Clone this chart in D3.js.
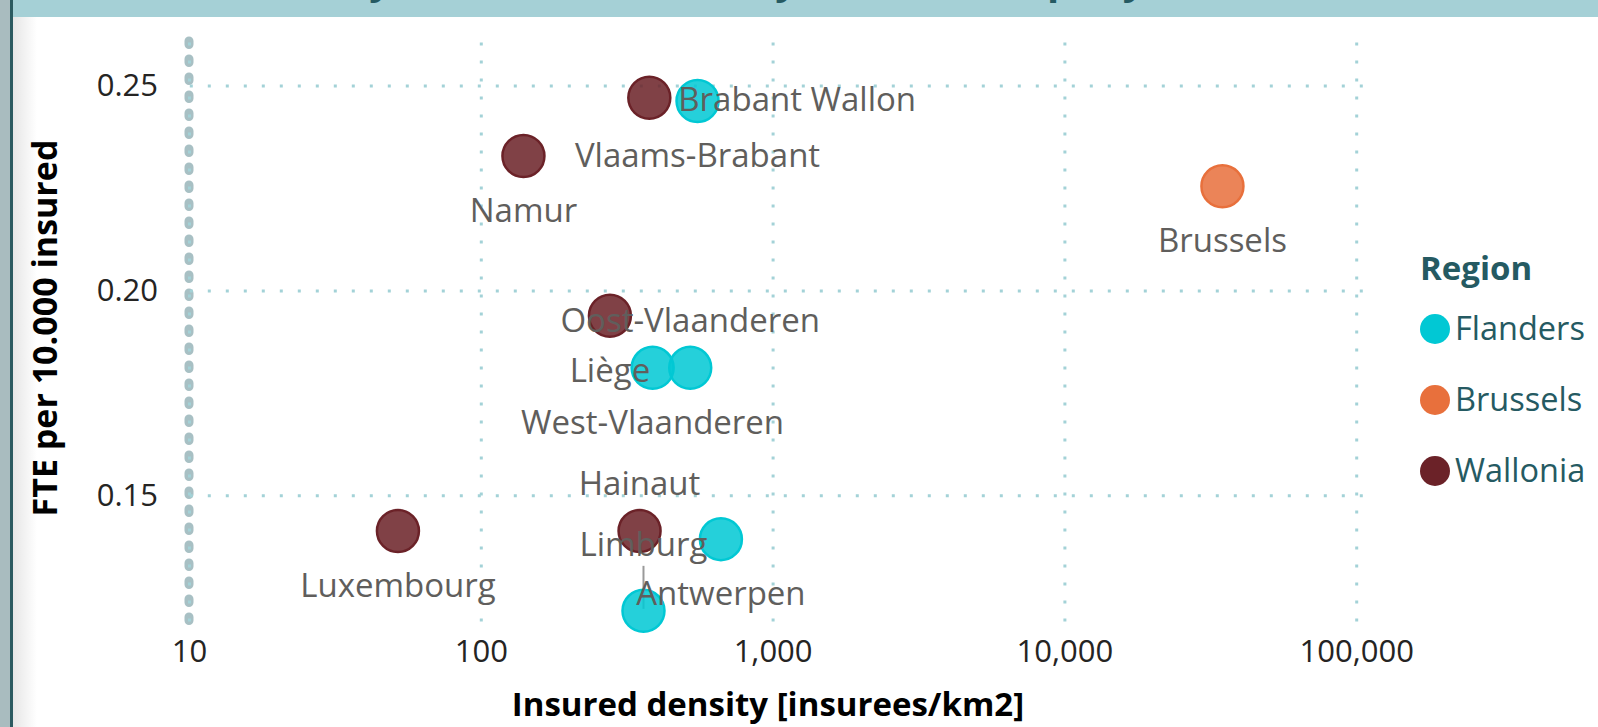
<!DOCTYPE html>
<html>
<head>
<meta charset="utf-8">
<script src="https://cdn.jsdelivr.net/npm/d3@7"></script>
<style>
  body { margin: 0; background: #fff; overflow: hidden; }
  svg { display: block; font-family: "Segoe UI", "Open Sans", sans-serif; }
</style>
</head>
<body>
<div id="chart"></div>
<script>
// data
const provinces = ["Brabant Wallon", "Namur", "Liège", "Luxembourg", "Hainaut",
                   "Vlaams-Brabant", "Oost-Vlaanderen", "West-Vlaanderen", "Antwerpen", "Limburg",
                   "Brussels"];
const regionOf = ["Wallonia", "Wallonia", "Wallonia", "Wallonia", "Wallonia",
                  "Flanders", "Flanders", "Flanders", "Flanders", "Flanders",
                  "Brussels"];
const density = [378, 140, 277, 52, 350, 553, 522, 388, 665, 361, 34800];      // insurees/km2
const ftePer10k = [0.2470, 0.2328, 0.1938, 0.1413, 0.1413, 0.2462, 0.1811, 0.1811, 0.1393, 0.1218, 0.2254];
const labelPos = ["right", "below", "below", "below", "above", "below", "above", "below", "below", "leader", "below"];

const regions = ["Flanders", "Brussels", "Wallonia"];
const regionColors = ["#01c8d4", "#e8703c", "#6b2228"];
const xTicks = [10, 100, 1000, 10000, 100000];
const yTicks = [0.15, 0.20, 0.25];

const width = 1598, height = 727;
const plot = {left: 189, right: 1370, top: 38.8, bottom: 621.5};

const svg = d3.select("#chart").append("svg")
    .attr("width", width)
    .attr("height", height);

// frame bits: left border + header band
const defs = svg.append("defs");
const grad = defs.append("linearGradient").attr("id", "shade");
grad.append("stop").attr("offset", "0%").attr("stop-color", "#e6e6e6");
grad.append("stop").attr("offset", "100%").attr("stop-color", "#ffffff");

svg.append("rect").attr("x", 13).attr("y", 0).attr("width", 24).attr("height", height).attr("fill", "url(#shade)");
svg.append("rect").attr("x", 0).attr("y", 0).attr("width", 10).attr("height", height).attr("fill", "#a9bcbf");
svg.append("rect").attr("x", 10).attr("y", 0).attr("width", 3).attr("height", height).attr("fill", "#2b5a60");
svg.append("rect").attr("x", 13).attr("y", 0).attr("width", width - 13).attr("height", 17).attr("fill", "#a5d0d6");
// title sits above the visible area, only its descenders peek out
svg.append("text")
    .attr("x", 109).attr("y", -6)
    .attr("font-size", 40).attr("font-weight", "bold").attr("fill", "#255a62")
    .text("Staff intensity and insured density in each company");

const x = d3.scaleLog().domain([10, 10 ** (1 + (plot.right - plot.left) / 291.8)]).range([plot.left, plot.right]);
const y = d3.scaleLinear().domain([0.1192, 0.2614]).range([plot.bottom, plot.top]);

// y axis line (thick dotted)
svg.append("line")
    .attr("x1", x(10)).attr("x2", x(10))
    .attr("y1", 41).attr("y2", plot.bottom)
    .attr("stroke", "#a8c0c4").attr("stroke-width", 9)
    .attr("stroke-linecap", "round").attr("stroke-dasharray", "3.5 14.5");

// gridlines
const gridY = svg.append("g")
    .attr("transform", `translate(${plot.left},0)`)
    .call(d3.axisLeft(y).tickValues(yTicks).tickSize(-(plot.right - plot.left - 4)).tickFormat(""));
const gridX = svg.append("g")
    .attr("transform", `translate(0,${plot.bottom})`)
    .call(d3.axisBottom(x).tickValues(xTicks).tickSize(-(plot.bottom - 41)).tickFormat(""));
svg.selectAll(".domain").remove();
[gridX, gridY].forEach(g => g.selectAll("line")
    .attr("stroke", "#a3d2d7").attr("stroke-width", 3).attr("stroke-dasharray", "3 15"));
gridY.selectAll("line").attr("transform", "translate(0.8,0)");

// tick labels
const yAxis = svg.append("g")
    .attr("transform", `translate(158,0)`)
    .call(d3.axisLeft(y).tickValues(yTicks).tickSize(0).tickPadding(0).tickFormat(d3.format(".2f")));
const xAxis = svg.append("g")
    .attr("transform", `translate(0,640)`)
    .call(d3.axisBottom(x).tickValues(xTicks).tickSize(0).tickPadding(0).tickFormat(d3.format(",")));
svg.selectAll(".domain").remove();
[xAxis, yAxis].forEach(g => g.selectAll("text")
    .attr("font-size", 31).attr("fill", "#252423").style("font-family", "'Segoe UI','Open Sans',sans-serif"));

// axis titles
svg.append("text")
    .attr("x", 768).attr("y", 716)
    .attr("text-anchor", "middle")
    .attr("font-size", 33).attr("font-weight", "bold").attr("fill", "#000")
    .text("Insured density [insurees/km2]");
svg.append("text")
    .attr("transform", "translate(57,328) rotate(-90)")
    .attr("text-anchor", "middle")
    .attr("font-size", 34).attr("font-weight", "bold").attr("fill", "#000")
    .text("FTE per 10.000 insured");

// points
const color = d3.scaleOrdinal().domain(regions).range(regionColors);
const idx = d3.range(provinces.length);

// leader line for Limburg
const marks = svg.append("g");
marks.selectAll("line.leader")
    .data(idx.filter(i => labelPos[i] === "leader"))
    .enter().append("line")
    .attr("class", "leader")
    .attr("x1", i => x(density[i])).attr("x2", i => x(density[i]))
    .attr("y1", i => y(ftePer10k[i]) - 45).attr("y2", i => y(ftePer10k[i]) - 2)
    .attr("stroke", "#9a9a9a").attr("stroke-width", 2);

marks.selectAll("circle")
    .data(idx)
    .enter().append("circle")
    .attr("cx", i => x(density[i]))
    .attr("cy", i => y(ftePer10k[i]))
    .attr("r", 21)
    .attr("fill", i => color(regionOf[i]))
    .attr("fill-opacity", 0.86)
    .attr("stroke", i => color(regionOf[i]))
    .attr("stroke-width", 2.5);

// data labels
marks.selectAll("text")
    .data(idx)
    .enter().append("text")
    .attr("x", i => labelPos[i] === "right" ? x(density[i]) + 29 : x(density[i]))
    .attr("y", i => {
        const cy = y(ftePer10k[i]);
        if (labelPos[i] === "right") return cy + 13;
        if (labelPos[i] === "above") return cy - 36;
        if (labelPos[i] === "leader") return cy - 55;
        return cy + 66;
    })
    .attr("text-anchor", i => labelPos[i] === "right" ? "start" : "middle")
    .attr("font-size", 33)
    .attr("fill", "#605e5c")
    .text(i => provinces[i]);

// legend
const legend = svg.append("g");
legend.append("text")
    .attr("x", 1420).attr("y", 280)
    .attr("font-size", 33).attr("font-weight", "bold").attr("fill", "#255a62")
    .text("Region");
const item = legend.selectAll("g.item")
    .data(regions)
    .enter().append("g")
    .attr("class", "item")
    .attr("transform", (d, i) => `translate(1435,${329 + i * 71})`);
item.append("circle").attr("r", 15).attr("fill", d => color(d));
item.append("text")
    .attr("x", 20).attr("y", 11)
    .attr("font-size", 32.5).attr("fill", "#255a62")
    .text(d => d);
</script>
</body>
</html>
